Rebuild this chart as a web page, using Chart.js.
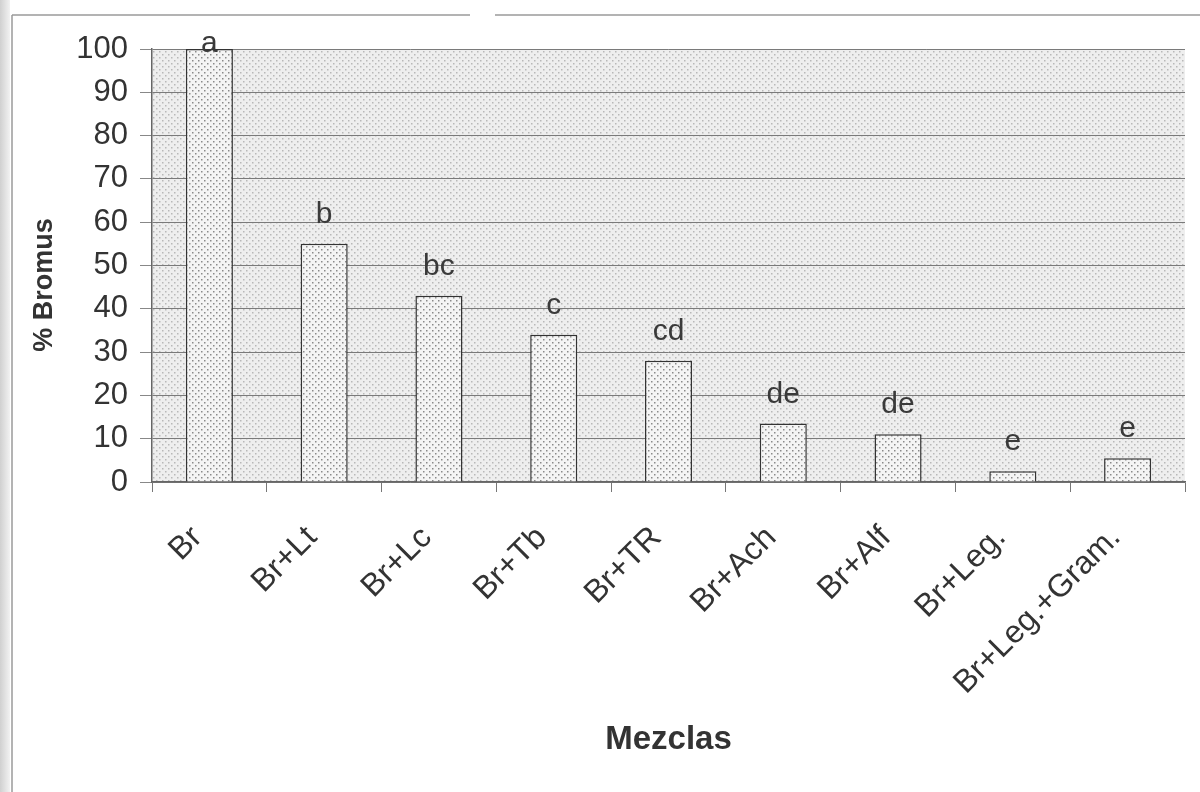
<!DOCTYPE html>
<html>
<head>
<meta charset="utf-8">
<script src="https://cdn.jsdelivr.net/npm/chart.js@4.4.1/dist/chart.umd.min.js"></script>
<style>
  html, body { margin: 0; padding: 0; background: #ffffff; }
  #wrap { width: 1200px; height: 792px; position: relative; }
</style>
</head>
<body>
<div id="wrap"><canvas id="c" width="1200" height="792"></canvas></div>
<script>
const categories = ['Br', 'Br+Lt', 'Br+Lc', 'Br+Tb', 'Br+TR', 'Br+Ach', 'Br+Alf', 'Br+Leg.', 'Br+Leg.+Gram.'];
const bromusPct = [100, 55, 43, 34, 28, 13.5, 11, 2.5, 5.5];
const letters = ['a', 'b', 'bc', 'c', 'cd', 'de', 'de', 'e', 'e'];
const yTicks = [0, 10, 20, 30, 40, 50, 60, 70, 80, 90, 100];
const yTitle = '% Bromus';
const xTitle = 'Mezclas';

function makePattern(base, dot, size) {
  const p = document.createElement('canvas');
  p.width = size; p.height = size;
  const g = p.getContext('2d');
  g.fillStyle = base; g.fillRect(0, 0, size, size);
  g.fillStyle = dot;
  g.fillRect(0, 0, 1.5, 1.5);
  g.fillRect(size / 2, size / 2, 1.5, 1.5);
  return document.getElementById('c').getContext('2d').createPattern(p, 'repeat');
}
const plotPattern = makePattern('#eeeeee', '#b8b8b8', 6);
const barPattern = makePattern('#f4f4f4', '#8a8a8a', 6);

const FONT = '"Liberation Sans", Arial, sans-serif';

const framePlugin = {
  id: 'frame',
  beforeDraw(chart) {
    const ctx = chart.ctx;
    ctx.save();
    ctx.fillStyle = '#ffffff';
    ctx.fillRect(0, 0, chart.width, chart.height);
    const grd = ctx.createLinearGradient(0, 0, 10, 0);
    grd.addColorStop(0, '#d0d0d0');
    grd.addColorStop(1, '#f2f2f2');
    ctx.fillStyle = grd;
    ctx.fillRect(0, 0, 10, chart.height);
    ctx.strokeStyle = '#9a9a9a';
    ctx.lineWidth = 1.5;
    ctx.beginPath();
    ctx.moveTo(12, 15); ctx.lineTo(12, chart.height);
    ctx.moveTo(12, 15); ctx.lineTo(470, 15);
    ctx.moveTo(495, 15); ctx.lineTo(chart.width, 15);
    ctx.stroke();
    const a = chart.chartArea;
    ctx.fillStyle = plotPattern;
    ctx.fillRect(a.left, a.top, a.right - a.left, a.bottom - a.top);
    ctx.restore();
  }
};

const lettersPlugin = {
  id: 'letters',
  afterDatasetsDraw(chart) {
    const ctx = chart.ctx;
    const meta = chart.getDatasetMeta(0);
    const a = chart.chartArea;
    ctx.save();
    ctx.font = '30px ' + FONT;
    ctx.fillStyle = '#3a3a3a';
    ctx.textAlign = 'center';
    ctx.textBaseline = 'alphabetic';
    meta.data.forEach((bar, i) => {
      const y = Math.max(bar.y - 21, a.top + 3);
      ctx.fillText(letters[i], bar.x, y);
    });
    ctx.font = 'bold 27px ' + FONT;
    ctx.fillStyle = '#333333';
    ctx.translate(45, 285);
    ctx.rotate(-Math.PI / 2);
    ctx.textBaseline = 'middle';
    ctx.fillText(yTitle, 0, 0);
    ctx.restore();
  }
};

new Chart(document.getElementById('c'), {
  type: 'bar',
  data: {
    labels: categories,
    datasets: [{
      data: bromusPct,
      backgroundColor: barPattern,
      borderColor: '#333333',
      borderWidth: 1.5,
      barPercentage: 0.41,
      categoryPercentage: 1.0
    }]
  },
  options: {
    responsive: false,
    animation: false,
    devicePixelRatio: 1,
    layout: { padding: { left: 0, right: 15, top: 49, bottom: 32 } },
    plugins: {
      legend: { display: false },
      tooltip: { enabled: false }
    },
    scales: {
      x: {
        offset: true,
        grid: {
          offset: true,
          drawOnChartArea: false,
          drawTicks: true,
          tickLength: 10,
          color: '#777777'
        },
        border: { display: true, color: '#666666', width: 1.5 },
        ticks: {
          minRotation: 45,
          maxRotation: 45,
          autoSkip: false,
          padding: 27,
          labelOffset: -12,
          color: '#333333',
          font: { family: FONT, size: 32 }
        },
        title: {
          display: true,
          text: xTitle,
          color: '#333333',
          font: { family: FONT, size: 33, weight: 'bold' },
          padding: { top: 0, bottom: 0 }
        },
        afterFit(scale) { scale.height = 792 - 32 - 482; }
      },
      y: {
        min: 0,
        max: 100,
        afterBuildTicks(scale) { scale.ticks = yTicks.map(v => ({ value: v })); },
        grid: {
          color: '#7a7a7a',
          lineWidth: 1,
          drawTicks: true,
          tickLength: 12,
          tickColor: '#888888'
        },
        border: { display: true, color: '#666666', width: 1.5 },
        ticks: {
          padding: 12,
          color: '#333333',
          font: { family: FONT, size: 31 }
        },
        afterFit(scale) { scale.width = 152; }
      }
    }
  },
  plugins: [framePlugin, lettersPlugin]
});
</script>
</body>
</html>
